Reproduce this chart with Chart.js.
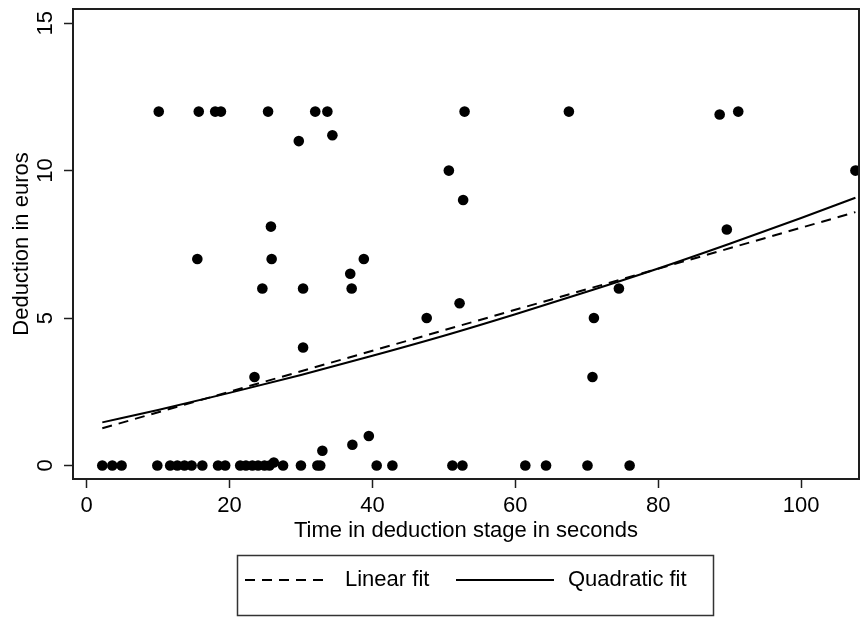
<!DOCTYPE html>
<html><head><meta charset="utf-8">
<script src="https://cdn.jsdelivr.net/npm/chart.js@4.4.1/dist/chart.umd.min.js"></script>
<style>html,body{margin:0;padding:0;background:#fff}#wrap{width:860px;height:617px;position:relative}</style>
</head><body><div id="wrap"><canvas id="c" width="860" height="617"></canvas></div>
<script>
// ---- data ----
const xTickValues = [0, 20, 40, 60, 80, 100];
const yTickValues = [0, 5, 10, 15];
const xAxisTitle = 'Time in deduction stage in seconds';
const yAxisTitle = 'Deduction in euros';
const legendLabels = ['Linear fit', 'Quadratic fit'];

const timeSec = [
  2.2, 3.6, 4.9, 9.9, 11.7, 12.7, 13.7, 14.7, 16.2, 18.4, 19.4,
  21.5, 22.3, 23.2, 24.0, 24.9, 25.6, 27.5, 30.0, 32.3, 32.7,
  40.6, 42.8, 51.2, 52.6, 61.4, 64.3, 70.1, 76.0,
  26.2, 33.0, 37.2, 39.5,
  10.1, 15.7, 18.0, 18.8, 25.4, 32.0, 33.7, 52.9, 67.5, 91.2, 88.6,
  29.7, 34.4, 50.7, 107.6, 52.7, 25.8, 89.6,
  15.5, 25.9, 38.8, 36.9, 24.6, 30.3, 37.1, 74.5,
  52.2, 47.6, 71.0, 30.3, 23.5, 70.8
];
const deductionEur = [
  0, 0, 0, 0, 0, 0, 0, 0, 0, 0, 0,
  0, 0, 0, 0, 0, 0, 0, 0, 0, 0,
  0, 0, 0, 0, 0, 0, 0, 0,
  0.1, 0.5, 0.7, 1.0,
  12, 12, 12, 12, 12, 12, 12, 12, 12, 12, 11.9,
  11.0, 11.2, 10, 10, 9, 8.1, 8.0,
  7, 7, 7, 6.5, 6, 6, 6, 6,
  5.5, 5, 5, 4, 3, 3
];
const linearFitX = [2.2, 107.6];
const linearFitY = [1.26, 8.59];
const quadFitX = [2.2, 10, 20, 30, 40, 50, 60, 70, 80, 90, 100, 107.6];
const quadFitY = [1.46, 1.88, 2.46, 3.07, 3.72, 4.40, 5.13, 5.89, 6.68, 7.52, 8.39, 9.08];

// ---- chart ----
const FONT = '"Liberation Sans", Arial, Helvetica, sans-serif';
const INK = '#000';
const LINE = '#1e1e1e';
const DASH = [10, 7];

const toXY = (xs, ys) => xs.map((x, i) => ({ x: x, y: ys[i] }));

const framePlugin = {
  id: 'frame',
  afterDatasetsDraw(chart) {
    const { ctx, chartArea: a } = chart;
    ctx.save();
    ctx.strokeStyle = LINE;
    ctx.lineWidth = 2;
    ctx.strokeRect(a.left, a.top, a.right - a.left, a.bottom - a.top);
    ctx.restore();
  }
};

const legendPlugin = {
  id: 'boxLegend',
  afterDraw(chart) {
    const ctx = chart.ctx;
    const ds = chart.data.datasets;
    ctx.save();
    ctx.strokeStyle = '#333';
    ctx.lineWidth = 1.5;
    ctx.strokeRect(237.5, 555.5, 476, 60);
    const y = 580;
    const items = [
      { ds: ds[1], x0: 245, x1: 330, tx: 345 },
      { ds: ds[2], x0: 456, x1: 554, tx: 568 }
    ];
    items.forEach(it => {
      ctx.beginPath();
      ctx.setLineDash(it.ds.borderDash || []);
      ctx.strokeStyle = it.ds.borderColor;
      ctx.lineWidth = it.ds.borderWidth;
      ctx.moveTo(it.x0, y);
      ctx.lineTo(it.x1, y);
      ctx.stroke();
      ctx.setLineDash([]);
      ctx.fillStyle = INK;
      ctx.font = '22px ' + FONT;
      ctx.textAlign = 'left';
      ctx.textBaseline = 'middle';
      ctx.fillText(it.ds.label, it.tx, y);
    });
    ctx.restore();
  }
};

new Chart(document.getElementById('c'), {
  type: 'scatter',
  data: {
    datasets: [
      {
        label: 'Deduction',
        data: toXY(timeSec, deductionEur),
        pointRadius: 5.3,
        pointHoverRadius: 5.3,
        pointBackgroundColor: '#000',
        pointBorderWidth: 0,
        showLine: false,
        order: 3
      },
      {
        label: legendLabels[0],
        data: toXY(linearFitX, linearFitY),
        showLine: true,
        borderColor: '#000',
        borderWidth: 2,
        borderDash: DASH,
        pointRadius: 0,
        fill: false,
        order: 2
      },
      {
        label: legendLabels[1],
        data: toXY(quadFitX, quadFitY),
        showLine: true,
        borderColor: '#000',
        borderWidth: 2,
        pointRadius: 0,
        cubicInterpolationMode: 'monotone',
        fill: false,
        order: 1
      }
    ]
  },
  options: {
    responsive: false,
    animation: false,
    devicePixelRatio: 1,
    layout: { autoPadding: false, padding: { top: 9, right: 1, bottom: 73, left: 0 } },
    plugins: { legend: { display: false }, tooltip: { enabled: false } },
    scales: {
      x: {
        type: 'linear',
        min: -1.9,
        max: 108.1,
        afterFit(s) { s.height = 65; s.paddingLeft = 0; s.paddingRight = 0; },
        afterBuildTicks(s) { s.ticks = xTickValues.map(v => ({ value: v })); },
        border: { display: false },
        grid: { display: true, drawOnChartArea: false, drawTicks: true, tickLength: 9, tickWidth: 1.5, tickColor: LINE },
        ticks: { color: INK, padding: 5, maxRotation: 0, autoSkip: false, font: { family: FONT, size: 22 } },
        title: { display: true, text: xAxisTitle, color: INK, padding: { top: 0, bottom: 0 }, font: { family: FONT, size: 22 } }
      },
      y: {
        type: 'linear',
        min: -0.46,
        max: 15.48,
        afterFit(s) { s.width = 73; s.paddingTop = 0; s.paddingBottom = 0; },
        afterBuildTicks(s) { s.ticks = yTickValues.map(v => ({ value: v })); },
        border: { display: false },
        grid: { display: true, drawOnChartArea: false, drawTicks: true, tickLength: 9, tickWidth: 1.5, tickColor: LINE },
        ticks: { color: INK, padding: 6, minRotation: 90, maxRotation: 90, crossAlign: 'center', font: { family: FONT, size: 22 } },
        title: { display: true, text: yAxisTitle, color: INK, padding: { top: 9, bottom: 0 }, font: { family: FONT, size: 22 } }
      }
    }
  },
  plugins: [framePlugin, legendPlugin]
});
</script>
</body></html>
